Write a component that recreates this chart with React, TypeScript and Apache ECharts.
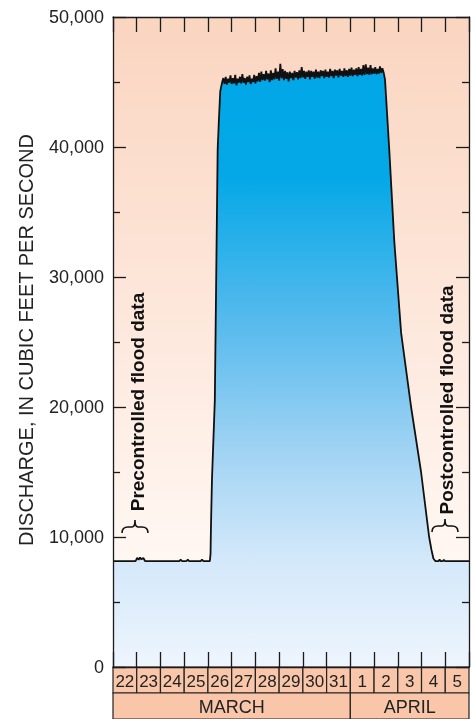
import React, { useEffect, useRef } from 'react';
import * as echarts from 'echarts';

// Day labels along the bottom (days since 00:00 March 22 on the value axis)
const dayLabels = ['22', '23', '24', '25', '26', '27', '28', '29', '30', '31', '1', '2', '3', '4', '5'];
const monthLabels = ['MARCH', 'APRIL'];
const monthDayCounts = [10, 5];
const yTickValues = [0, 10000, 20000, 30000, 40000, 50000];

// Discharge, cubic feet per second: [day offset, discharge]
const preFlood: [number, number][] = [
  [0, 8150], [0.95, 8150], [1.02, 8400], [1.08, 8250], [1.14, 8420], [1.2, 8280], [1.28, 8380], [1.35, 8150],
  [2.8, 8150], [2.85, 8260], [2.9, 8150], [3.1, 8150], [3.15, 8260], [3.2, 8150],
  [3.7, 8150], [3.75, 8270], [3.8, 8150], [4.08, 8150],
];
const risingLimb: [number, number][] = [
  [4.11, 8700], [4.13, 11000], [4.17, 14400], [4.29, 20500], [4.41, 39800], [4.46, 42000], [4.52, 44300],
];
const plateau: [number, number][] = [
  [4.6, 45000], [4.65, 45300], [4.7, 44850], [4.75, 45400], [4.8, 44800], [4.85, 45250], [4.9, 44950],
  [4.95, 45500], [5.0, 44850], [5.05, 45300], [5.1, 44900], [5.15, 45550], [5.2, 44750], [5.25, 45250],
  [5.3, 44950], [5.35, 45400], [5.4, 44900], [5.45, 45600], [5.5, 44950], [5.55, 45300], [5.6, 44800],
  [5.65, 45400], [5.7, 45000], [5.75, 45500], [5.8, 44850], [5.85, 45250], [5.9, 45000], [5.95, 45550],
  [6.0, 44900], [6.05, 45450], [6.1, 45050], [6.15, 45700], [6.2, 45000], [6.25, 45800], [6.3, 45150],
  [6.35, 45600], [6.4, 45100], [6.45, 45850], [6.5, 45200], [6.55, 45650], [6.6, 45000], [6.65, 45900],
  [6.7, 45150], [6.75, 45700], [6.8, 45200], [6.85, 46050], [6.9, 45250], [6.95, 45800], [7.0, 45100],
  [7.05, 46400], [7.1, 45300], [7.15, 46000], [7.2, 45150], [7.25, 45850], [7.3, 45250], [7.35, 45750],
  [7.4, 45050], [7.45, 45800], [7.5, 45300], [7.55, 45700], [7.6, 45150], [7.65, 45850], [7.7, 45350],
  [7.75, 45750], [7.8, 45200], [7.85, 45900], [7.9, 45300], [7.95, 46150], [8.0, 45350], [8.05, 45850],
  [8.1, 45250], [8.15, 45800], [8.2, 45400], [8.25, 45900], [8.3, 45200], [8.35, 45850], [8.4, 45400],
  [8.45, 45800], [8.5, 45250], [8.55, 45950], [8.6, 45350], [8.65, 45800], [8.7, 45300], [8.75, 45900],
  [8.8, 45450], [8.85, 45850], [8.9, 45300], [8.95, 45950], [9.0, 45400], [9.05, 45800], [9.1, 45350],
  [9.15, 46000], [9.2, 45450], [9.25, 45850], [9.3, 45300], [9.35, 45950], [9.4, 45500], [9.45, 45900],
  [9.5, 45350], [9.55, 46000], [9.6, 45500], [9.65, 45850], [9.7, 45400], [9.75, 46050], [9.8, 45450],
  [9.85, 45900], [9.9, 45400], [9.95, 46000], [10.0, 45500], [10.05, 46100], [10.1, 45450], [10.15, 45950],
  [10.2, 45550], [10.25, 46050], [10.3, 45450], [10.35, 46150], [10.4, 45550], [10.45, 46000], [10.5, 45500],
  [10.55, 46300], [10.6, 45550], [10.65, 46350], [10.7, 45600], [10.75, 46100], [10.8, 45550], [10.85, 46300],
  [10.9, 45600], [10.95, 46050], [11.0, 45650], [11.05, 46150], [11.1, 45600], [11.15, 46000], [11.2, 45650],
  [11.25, 46200], [11.3, 45700], [11.35, 46050], [11.4, 45750],
];
const recession: [number, number][] = [
  [11.46, 45200], [11.64, 39800], [11.85, 32800], [12.14, 25700], [12.56, 20000], [12.98, 15000],
  [13.32, 10000], [13.42, 9000], [13.5, 8350],
];
const postFlood: [number, number][] = [
  [13.58, 8150], [13.72, 8150], [13.76, 8260], [13.8, 8150], [13.9, 8150], [13.94, 8250], [13.98, 8150], [15, 8150],
];

const FONT = 'Liberation Sans, Arial, Helvetica, sans-serif';

echarts.graphic.registerShape(
  'brace',
  echarts.graphic.extendPath('M0,13 Q0,7 6,7 L10,7 Q13,7 13,0 Q13,7 16,7 L20,7 Q26,7 26,13', {})
);

export default function App() {
  const ref = useRef<HTMLDivElement>(null);
  useEffect(() => {
    if (!ref.current) return;
    const chart = echarts.init(ref.current, null, { renderer: 'svg' });
    const discharge = [...preFlood, ...risingLimb, ...plateau, ...recession, ...postFlood];
    const dayCells = dayLabels.map((_, i) => [i, i + 1, 1]);
    const monthCells: number[][] = [];
    let acc = 0;
    monthDayCounts.forEach((n) => {
      monthCells.push([acc, acc + n, 0]);
      acc += n;
    });
    const cellRender = (labels: string[], fontSize: number) => (params: any, api: any) => {
      const x0 = api.value(0), x1 = api.value(1), r = api.value(2);
      const p0 = api.coord([x0, r + 1]);
      const p1 = api.coord([x1, r]);
      return {
        type: 'group',
        children: [
          {
            type: 'rect',
            shape: { x: p0[0], y: p0[1], width: p1[0] - p0[0], height: p1[1] - p0[1] },
            style: { fill: '#F9C6A9', stroke: '#222', lineWidth: 1.2 },
          },
          {
            type: 'text',
            style: {
              text: labels[params.dataIndex],
              x: (p0[0] + p1[0]) / 2,
              y: (p0[1] + p1[1]) / 2 + 1,
              align: 'center',
              verticalAlign: 'middle',
              fontSize,
              fontFamily: FONT,
              fill: '#222',
            },
          },
        ],
      };
    };
    const axisLineStyle = { color: '#1a1a1a', width: 1.3 };
    const lineOpts = { show: true, onZero: false, lineStyle: axisLineStyle };
    chart.setOption({
      animation: false,
      grid: [
        {
          left: 113, top: 17, width: 356, height: 650, show: true, borderWidth: 0,
          backgroundColor: {
            type: 'linear', x: 0, y: 0, x2: 0, y2: 1,
            colorStops: [
              { offset: 0, color: '#FAD5C0' },
              { offset: 0.45, color: '#FDE7DB' },
              { offset: 0.8, color: '#FFF6F1' },
              { offset: 1, color: '#FFFAF7' },
            ],
          },
        },
        { left: 113, top: 667, width: 356, height: 52 },
      ],
      xAxis: [
        {
          type: 'value', gridIndex: 0, min: 0, max: 15, interval: 1, position: 'bottom', z: 10,
          axisLine: lineOpts,
          axisTick: { show: true, inside: true, length: 15, lineStyle: axisLineStyle },
          axisLabel: { show: false }, splitLine: { show: false },
        },
        {
          type: 'value', gridIndex: 0, min: 0, max: 15, interval: 1, position: 'top', z: 10,
          axisLine: lineOpts,
          axisTick: { show: true, inside: true, length: 15, lineStyle: axisLineStyle },
          axisLabel: { show: false }, splitLine: { show: false },
        },
        {
          type: 'value', gridIndex: 1, min: 0, max: 15, show: false,
        },
      ],
      yAxis: [
        {
          type: 'value', gridIndex: 0, min: 0, max: 50000, interval: 10000, position: 'left', z: 10,
          axisLine: lineOpts,
          axisTick: { show: true, inside: true, length: 13, lineStyle: axisLineStyle },
          minorTick: { show: true, splitNumber: 2, length: 7, lineStyle: axisLineStyle },
          splitLine: { show: false },
          axisLabel: {
            margin: 9, fontSize: 18, color: '#222', fontFamily: FONT,
            formatter: (v: number) => (yTickValues.includes(v) ? v.toLocaleString('en-US') : ''),
          },
        },
        {
          type: 'value', gridIndex: 0, min: 0, max: 50000, interval: 10000, position: 'right', z: 10,
          axisLine: lineOpts,
          axisTick: { show: true, inside: true, length: 13, lineStyle: axisLineStyle },
          minorTick: { show: true, splitNumber: 2, length: 7, lineStyle: axisLineStyle },
          splitLine: { show: false },
          axisLabel: { show: false },
        },
        { type: 'value', gridIndex: 1, min: 0, max: 2, show: false },
      ],
      series: [
        {
          type: 'line', xAxisIndex: 0, yAxisIndex: 0, data: discharge,
          showSymbol: false, symbol: 'none',
          lineStyle: { color: '#111', width: 1.8 },
          areaStyle: {
            opacity: 1,
            color: {
              type: 'linear', x: 0, y: 0, x2: 0, y2: 1,
              colorStops: [
                { offset: 0, color: '#00A7E7' },
                { offset: 0.19, color: '#05A8E7' },
                { offset: 0.44, color: '#5BBBED' },
                { offset: 0.64, color: '#A0D3F3' },
                { offset: 0.82, color: '#D3E8FA' },
                { offset: 1, color: '#EEF5FD' },
              ],
            },
          },
          z: 2,
        },
        {
          type: 'custom', xAxisIndex: 2, yAxisIndex: 2, data: dayCells,
          renderItem: cellRender(dayLabels, 17), silent: true,
        },
        {
          type: 'custom', xAxisIndex: 2, yAxisIndex: 2, data: monthCells,
          renderItem: cellRender(monthLabels, 18), silent: true,
        },
      ],
      graphic: [
        {
          type: 'text', x: 26, y: 340, rotation: Math.PI / 2,
          style: {
            text: 'DISCHARGE, IN CUBIC FEET PER SECOND', align: 'center', verticalAlign: 'middle',
            fontSize: 20, fontFamily: FONT, fill: '#222',
          },
        },
        {
          type: 'text', x: 137, y: 402, rotation: Math.PI / 2, z: 10,
          style: {
            text: 'Precontrolled flood data', align: 'center', verticalAlign: 'middle',
            fontSize: 19, fontWeight: 'bold', fontFamily: FONT, fill: '#111',
          },
        },
        {
          type: 'text', x: 446, y: 400, rotation: Math.PI / 2, z: 10,
          style: {
            text: 'Postcontrolled flood data', align: 'center', verticalAlign: 'middle',
            fontSize: 19, fontWeight: 'bold', fontFamily: FONT, fill: '#111',
          },
        },
        {
          type: 'brace', x: 122, y: 520, z: 10,
          style: { stroke: '#111', fill: 'none', lineWidth: 1.6 },
        },
        {
          type: 'brace', x: 432, y: 519, z: 10,
          style: { stroke: '#111', fill: 'none', lineWidth: 1.6 },
        },
      ],
    });
    return () => chart.dispose();
  }, []);
  return <div ref={ref} style={{ position: 'fixed', left: 0, top: 0, width: 474, height: 719 }} />;
}
